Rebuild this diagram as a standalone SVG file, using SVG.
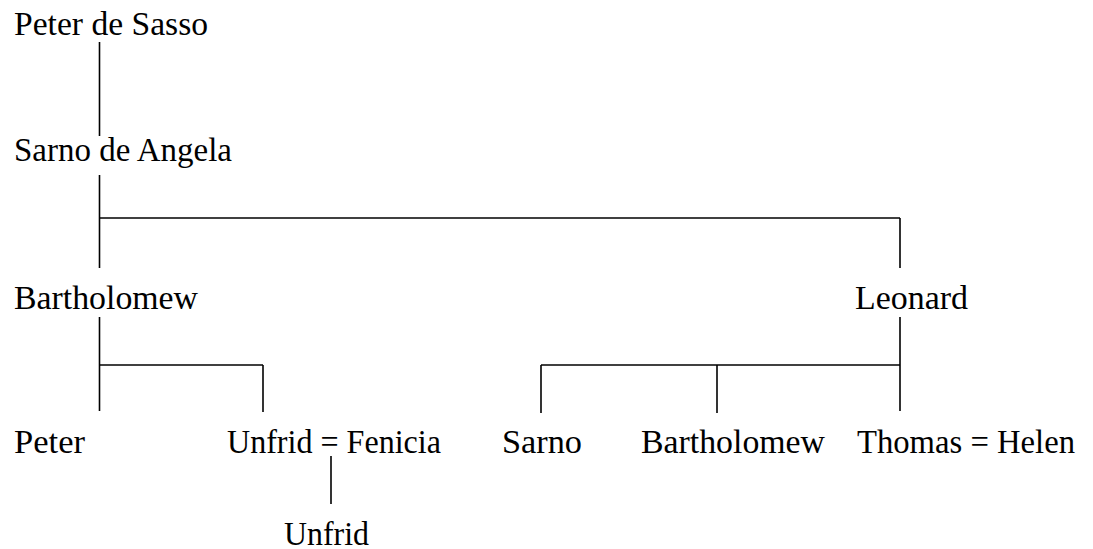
<svg xmlns="http://www.w3.org/2000/svg" width="1093" height="549" viewBox="0 0 1093 549">
<style>
text{font-family:"Liberation Serif","DejaVu Serif",serif;font-size:33px;fill:#000}
.c line{stroke:#000;stroke-width:1.6;fill:none}
</style>
<rect width="1093" height="549" fill="#fff"/>
<g class="c" id="connectors">
<line x1="99.5" y1="42" x2="99.5" y2="136"/>
<line x1="99.5" y1="175" x2="99.5" y2="268"/>
<line x1="99.5" y1="218" x2="900" y2="218"/>
<line x1="900" y1="218" x2="900" y2="268"/>
<line x1="99.5" y1="317" x2="99.5" y2="411"/>
<line x1="99.5" y1="365" x2="263" y2="365"/>
<line x1="263" y1="365" x2="263" y2="412"/>
<line x1="900" y1="317" x2="900" y2="411"/>
<line x1="541" y1="365" x2="900" y2="365"/>
<line x1="541" y1="365" x2="541" y2="413"/>
<line x1="717" y1="365" x2="717" y2="413"/>
<line x1="331" y1="456" x2="331" y2="504"/>
</g>
<g id="n-peter-de-sasso"><text x="14" y="35" textLength="194" lengthAdjust="spacingAndGlyphs">Peter de Sasso</text></g>
<g id="n-sarno-de-angela"><text x="14" y="161" textLength="218" lengthAdjust="spacingAndGlyphs">Sarno de Angela</text></g>
<g id="n-bartholomew"><text x="14" y="309" textLength="184" lengthAdjust="spacingAndGlyphs">Bartholomew</text></g>
<g id="n-leonard"><text x="855" y="309" textLength="113" lengthAdjust="spacingAndGlyphs">Leonard</text></g>
<g id="n-peter"><text x="14" y="453" textLength="71" lengthAdjust="spacingAndGlyphs">Peter</text></g>
<g id="n-unfrid-fenicia"><text x="227" y="453" textLength="214" lengthAdjust="spacingAndGlyphs">Unfrid = Fenicia</text></g>
<g id="n-sarno"><text x="502" y="453" textLength="80" lengthAdjust="spacingAndGlyphs">Sarno</text></g>
<g id="n-bartholomew2"><text x="641" y="453" textLength="184" lengthAdjust="spacingAndGlyphs">Bartholomew</text></g>
<g id="n-thomas-helen"><text x="857" y="453" textLength="218" lengthAdjust="spacingAndGlyphs">Thomas = Helen</text></g>
<g id="n-unfrid"><text x="284" y="545" textLength="85" lengthAdjust="spacingAndGlyphs">Unfrid</text></g>
</svg>
